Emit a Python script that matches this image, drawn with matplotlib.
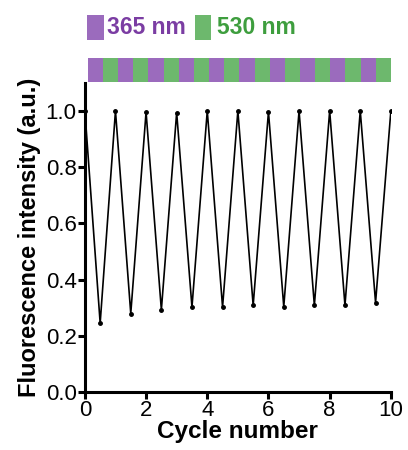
import matplotlib
matplotlib.use("Agg")
import matplotlib.pyplot as plt
from matplotlib.patches import Rectangle

plt.rcParams['font.family'] = ['Liberation Sans', 'DejaVu Sans']

cycles = [0, 0.5, 1, 1.5, 2, 2.5, 3, 3.5, 4, 4.5, 5, 5.5, 6, 6.5, 7, 7.5, 8, 8.5, 9, 9.5, 10]
intensity = [1.0, 0.245, 1.0, 0.279, 0.996, 0.292, 0.994, 0.302, 1.0, 0.302, 1.0, 0.308,
             0.997, 0.303, 1.0, 0.308, 1.0, 0.308, 1.0, 0.318, 1.0]
xticks = [0, 2, 4, 6, 8, 10]
yticks = [0.0, 0.2, 0.4, 0.6, 0.8, 1.0]
strip_edges = [i * 0.5 for i in range(21)]
purple = '#9B6BBD'
green = '#6DB86D'
purple_txt = '#7B3DA3'
green_txt = '#3E9E3E'

fig = plt.figure(figsize=(4.08, 4.5), dpi=100)
ax = fig.add_axes([0.208, 0.129, 0.750, 0.687])
ax.plot(cycles, intensity, color='black', lw=1.2, marker='o', ms=2.5, mfc='black', mec='black')
ax.set_xlim(0, 10)
ax.set_ylim(0, 1.1)
ax.set_xticks(xticks)
ax.set_xticklabels([str(t) for t in xticks])
ax.set_yticks(yticks)
ax.set_yticklabels([f"{t:.1f}" for t in yticks])
for s in ['top', 'right']:
    ax.spines[s].set_visible(False)
for s in ['left', 'bottom']:
    ax.spines[s].set_linewidth(2.2)
ax.tick_params(width=2.2, length=5, labelsize=16, pad=1)
ax.set_xlabel('Cycle number', fontsize=17.5, fontweight='bold', labelpad=-1)
ax.set_ylabel('Fluorescence intensity (a.u.)', fontsize=17, fontweight='bold', labelpad=3)

# strip
sax = fig.add_axes([0.208, 0.818, 0.750, 0.053])
for i in range(len(strip_edges) - 1):
    c = purple if i % 2 == 0 else green
    sax.add_patch(Rectangle((strip_edges[i], 0), strip_edges[i + 1] - strip_edges[i], 1,
                            facecolor=c, edgecolor='none'))
sax.set_xlim(-0.1, 10)
sax.set_ylim(0, 1)
sax.axis('off')

# legend
fig.patches.append(Rectangle((87 / 408, 1 - 40 / 450), 17 / 408, 25 / 450,
                             transform=fig.transFigure, facecolor=purple, edgecolor='none'))
fig.patches.append(Rectangle((195 / 408, 1 - 40 / 450), 16 / 408, 25 / 450,
                             transform=fig.transFigure, facecolor=green, edgecolor='none'))
fig.text(107 / 408, 1 - 28 / 450, '365 nm', color=purple_txt, fontsize=16.5, fontweight='bold',
         va='center', ha='left')
fig.text(217 / 408, 1 - 28 / 450, '530 nm', color=green_txt, fontsize=16.5, fontweight='bold',
         va='center', ha='left')

fig.savefig('out.png', dpi=100)
